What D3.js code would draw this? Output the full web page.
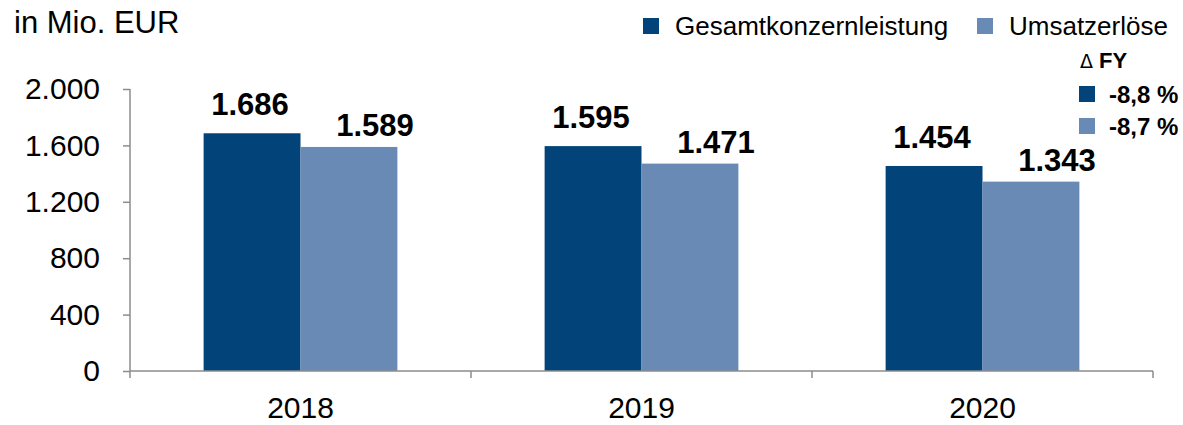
<!DOCTYPE html>
<html>
<head>
<meta charset="utf-8">
<script src="https://d3js.org/d3.v7.min.js"></script>
<style>
  body { margin:0; background:#fff; }
  text { font-family: "Liberation Sans", Arial, sans-serif; }
</style>
</head>
<body>
<script>
  // chart data
  const years = ['2018', '2019', '2020'];
  const series = ['Gesamtkonzernleistung', 'Umsatzerlöse'];
  const gesamt = [1686, 1595, 1454];
  const umsatz = [1589, 1471, 1343];
  const deltaFY = ['-8,8 %', '-8,7 %'];
  const yTicks = [0, 400, 800, 1200, 1600, 2000];

  const colors = ['#02447a', '#688ab5'];
  const axisColor = '#8c8c8c';

  const width = 1183, height = 425;
  const svg = d3.select('body').append('svg')
      .attr('width', width)
      .attr('height', height);

  const de = d3.formatLocale({decimal: ',', thousands: '.', grouping: [3], currency: ['', ' €']});
  const fmt = de.format(',d');

  const x0 = d3.scaleBand().domain(years).range([130, 1153]).paddingInner(0).paddingOuter(0);
  const x1 = d3.scaleBand().domain(series).range([0, x0.bandwidth()]).paddingInner(0).paddingOuter(0.76);
  const y = d3.scaleLinear().domain([0, 2000]).range([371, 89]);

  const rows = years.map((yr, i) => ({year: yr, values: [gesamt[i], umsatz[i]]}));

  // bars
  const groups = svg.append('g').selectAll('g')
    .data(rows)
    .join('g')
      .attr('transform', d => `translate(${x0(d.year)},0)`);

  groups.selectAll('rect')
    .data(d => d.values.map((v, j) => ({key: series[j], v, j})))
    .join('rect')
      .attr('x', d => x1(d.key))
      .attr('y', d => y(d.v))
      .attr('width', x1.bandwidth())
      .attr('height', d => y(0) - y(d.v))
      .attr('fill', d => colors[d.j]);

  // value labels (second series shifted right like the original)
  const labelDx = [-2, 26];
  const labelDy = [-18, -11];
  groups.selectAll('text.val')
    .data(d => d.values.map((v, j) => ({key: series[j], v, j})))
    .join('text')
      .attr('class', 'val')
      .attr('x', d => x1(d.key) + x1.bandwidth() / 2 + labelDx[d.j])
      .attr('y', d => y(d.v) + labelDy[d.j])
      .attr('text-anchor', 'middle')
      .style('font-size', '31px')
      .style('font-weight', 'bold')
      .style('fill', '#000')
      .text(d => fmt(d.v));

  // y axis
  const yAxis = svg.append('g')
    .attr('transform', `translate(${x0.range()[0]},0)`)
    .call(d3.axisLeft(y).tickValues(yTicks).tickFormat(fmt).tickSize(7).tickPadding(23).tickSizeOuter(0));
  yAxis.select('.domain').remove();
  yAxis.selectAll('line').attr('stroke', axisColor).attr('stroke-width', 1.5);
  yAxis.selectAll('text').style('font-size', '30px').style('font-family', '"Liberation Sans", Arial, sans-serif').attr('fill', '#000');
  svg.append('line')
    .attr('x1', x0.range()[0]).attr('x2', x0.range()[0])
    .attr('y1', y(2000)).attr('y2', y(0) + 7)
    .attr('stroke', axisColor).attr('stroke-width', 1.5);

  // x axis: line + ticks between categories
  svg.append('line')
    .attr('x1', x0.range()[0]).attr('x2', x0.range()[1])
    .attr('y1', y(0)).attr('y2', y(0))
    .attr('stroke', axisColor).attr('stroke-width', 1.5);
  const bounds = years.map(d => x0(d)).concat([x0.range()[1]]);
  svg.append('g').selectAll('line')
    .data(bounds.slice(1))
    .join('line')
      .attr('x1', d => d).attr('x2', d => d)
      .attr('y1', y(0)).attr('y2', y(0) + 7)
      .attr('stroke', axisColor).attr('stroke-width', 1.5);
  svg.append('g').selectAll('text')
    .data(years)
    .join('text')
      .attr('x', d => x0(d) + x0.bandwidth() / 2)
      .attr('y', 418)
      .attr('text-anchor', 'middle')
      .style('font-size', '30px')
      .text(d => d);

  // unit label
  svg.append('text')
    .attr('x', 14).attr('y', 33)
    .style('font-size', '31px')
    .text('in Mio. EUR');

  // legend
  const legX = [643, 977];
  const leg = svg.append('g').selectAll('g')
    .data(series)
    .join('g')
      .attr('transform', (d, i) => `translate(${legX[i]},18)`);
  leg.append('rect').attr('width', 16).attr('height', 16).attr('fill', (d, i) => colors[i]);
  leg.append('text').attr('x', 32).attr('y', 17).style('font-size', '26px').text(d => d);

  // delta FY box
  const dfy = svg.append('text')
    .attr('x', 1080).attr('y', 68)
    .style('font-size', '22px');
  dfy.append('tspan').style('font-family', '"DejaVu Sans", sans-serif').style('font-size', '19px').text('Δ');
  dfy.append('tspan').style('font-weight', 'bold').text(' FY');
  const dl = svg.append('g').selectAll('g')
    .data(deltaFY)
    .join('g')
      .attr('transform', (d, i) => `translate(1079,${86 + i * 32})`);
  dl.append('rect').attr('width', 16).attr('height', 16).attr('fill', (d, i) => colors[i]);
  dl.append('text').attr('x', 30).attr('y', 17).style('font-size', '24px').style('font-weight', 'bold').text(d => d);
</script>
</body>
</html>
